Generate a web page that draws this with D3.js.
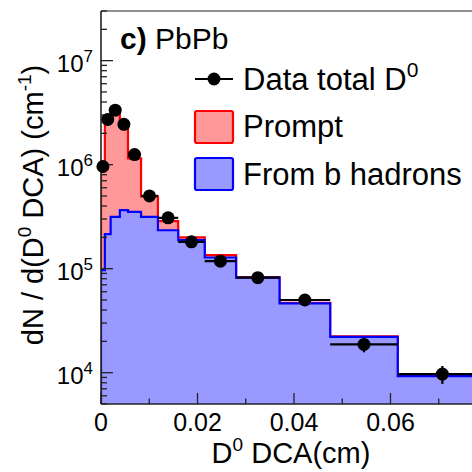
<!DOCTYPE html>
<html>
<head>
<meta charset="UTF-8">
<script src="https://d3js.org/d3.v7.min.js"></script>
<style>
  body { margin: 0; background: #fff; }
  text { font-family: "Liberation Sans", Arial, sans-serif; fill: #000; }
</style>
</head>
<body>
<svg id="chart" width="472" height="472"></svg>
<script>
// bin edges of DCA (cm)
const binEdges = [0, 0.0008, 0.002, 0.0039, 0.0056, 0.0083, 0.0118, 0.016, 0.0215, 0.028, 0.037, 0.0475, 0.0615, 0.08];
// data total D0
const dataVals = [9.6e5, 2.72e6, 3.34e6, 2.44e6, 1.25e6, 5.0e5, 3.08e5, 1.81e5, 1.18e5, 8.2e4, 5.0e4, 1.87e4, 9.7e3];
const dataErr  = [0, 0, 0, 0, 0, 0, 0, 0, 0, 0, 2500, 3000, 1900];
// prompt + from b (stacked total)
const totalVals = [1.0e6, 2.7e6, 3.3e6, 2.35e6, 1.15e6, 4.95e5, 2.87e5, 2.0e5, 1.35e5, 8.3e4, 4.68e4, 2.23e4, 9.35e3];
// from b hadrons
const fromBVals = [9.7e4, 2.15e5, 3.15e5, 3.65e5, 3.52e5, 3.15e5, 2.34e5, 1.88e5, 1.28e5, 8.2e4, 4.63e4, 2.21e4, 9.25e3];

const xTicks = [0, 0.02, 0.04, 0.06, 0.08];
const xTickLabels = ["0", "0.02", "0.04", "0.06", ""];
const yTickExp = [4, 5, 6, 7];

const svg = d3.select("#chart");
const mLeft = 101, mTop = 11, mRight = 487, mBottom = 404;

const x = d3.scaleLinear().domain([0, 0.08]).range([mLeft, mRight]);
const y = d3.scaleLog().domain([5000, 3e7]).range([mBottom, mTop]);

svg.append("defs").append("clipPath").attr("id", "plotclip")
  .append("rect").attr("x", mLeft).attr("y", mTop)
  .attr("width", mRight - mLeft).attr("height", mBottom - mTop);

const plot = svg.append("g").attr("clip-path", "url(#plotclip)");

function stepPath(vals) {
  let p = `M${x(binEdges[0])},${y(5000)}`;
  vals.forEach((v, i) => {
    p += `L${x(binEdges[i])},${y(v)}L${x(binEdges[i + 1])},${y(v)}`;
  });
  p += `L${x(binEdges[binEdges.length - 1])},${y(5000)}`;
  return p;
}

// histograms
plot.append("path").attr("d", stepPath(totalVals) + "Z")
  .attr("fill", "#ff9999").attr("stroke", "none");
plot.append("path").attr("d", stepPath(totalVals))
  .attr("fill", "none").attr("stroke", "#ff0000").attr("stroke-width", 2.2);
plot.append("path").attr("d", stepPath(fromBVals) + "Z")
  .attr("fill", "#9999ff").attr("stroke", "none");
plot.append("path").attr("d", stepPath(fromBVals))
  .attr("fill", "none").attr("stroke", "#0000ff").attr("stroke-width", 2.2);

// frame
const axisColor = "#222";
svg.append("line").attr("x1", mLeft).attr("x2", mRight).attr("y1", mBottom).attr("y2", mBottom)
  .attr("stroke", axisColor).attr("stroke-width", 1.6);
svg.append("line").attr("x1", mLeft).attr("x2", mLeft).attr("y1", mTop).attr("y2", mBottom)
  .attr("stroke", axisColor).attr("stroke-width", 1.6);
svg.append("line").attr("x1", mLeft).attr("x2", mRight).attr("y1", mTop).attr("y2", mTop)
  .attr("stroke", axisColor).attr("stroke-width", 1.2);

// x ticks (inward)
const xMinor = d3.range(0, 0.0801, 0.01);
xMinor.forEach(t => {
  const major = Math.abs(t / 0.02 - Math.round(t / 0.02)) < 1e-6;
  svg.append("line").attr("x1", x(t)).attr("x2", x(t))
    .attr("y1", mBottom).attr("y2", mBottom - (major ? 11 : 5.5))
    .attr("stroke", axisColor).attr("stroke-width", 1.3);
});
svg.selectAll(".xlab").data(xTicks).enter().append("text")
  .attr("x", d => x(d)).attr("y", 431)
  .attr("text-anchor", "middle").style("font-size", "25px")
  .text((d, i) => xTickLabels[i]);

// y ticks (inward, log)
for (let e = 3; e <= 7; e++) {
  for (let m = 1; m <= 9; m++) {
    const v = m * Math.pow(10, e);
    if (v < 5000 || v > 3e7) continue;
    svg.append("line").attr("x1", mLeft).attr("x2", mLeft + (m === 1 ? 12 : 6))
      .attr("y1", y(v)).attr("y2", y(v))
      .attr("stroke", axisColor).attr("stroke-width", 1.3);
  }
}
yTickExp.forEach(e => {
  const t = svg.append("text").attr("x", 93).attr("y", y(Math.pow(10, e)) + 11)
    .attr("text-anchor", "end").style("font-size", "24px");
  t.append("tspan").text("10");
  t.append("tspan").attr("dy", -10).style("font-size", "17px").text(e);
});

// data points
const centers = dataVals.map((v, i) => (binEdges[i] + binEdges[i + 1]) / 2);
const pts = svg.append("g");
dataVals.forEach((v, i) => {
  pts.append("line").attr("x1", x(binEdges[i])).attr("x2", Math.min(x(binEdges[i + 1]), 472))
    .attr("y1", y(v)).attr("y2", y(v)).attr("stroke", "#000").attr("stroke-width", 2.2);
  if (dataErr[i] > 0) {
    pts.append("line").attr("x1", x(centers[i])).attr("x2", x(centers[i]))
      .attr("y1", y(v + dataErr[i])).attr("y2", y(v - dataErr[i]))
      .attr("stroke", "#000").attr("stroke-width", 2.2);
  }
  pts.append("circle").attr("cx", x(centers[i])).attr("cy", y(v)).attr("r", 6.5).attr("fill", "#000");
});

// axis titles
const xt = svg.append("text").attr("x", 291).attr("y", 463)
  .attr("text-anchor", "middle").style("font-size", "29px");
xt.append("tspan").text("D");
xt.append("tspan").attr("dy", -12).style("font-size", "19px").text("0");
xt.append("tspan").attr("dy", 12).text(" DCA(cm)");

const yt = svg.append("text").attr("transform", "translate(43,205) rotate(-90)")
  .attr("text-anchor", "middle").style("font-size", "29px");
yt.append("tspan").text("dN / d(D");
yt.append("tspan").attr("dy", -12).style("font-size", "19px").text("0");
yt.append("tspan").attr("dy", 12).text(" DCA) (cm");
yt.append("tspan").attr("dy", -12).style("font-size", "19px").text("-1");
yt.append("tspan").attr("dy", 12).text(")");

// label
const lab = svg.append("text").attr("x", 120).attr("y", 49).style("font-size", "30px");
lab.append("tspan").style("font-weight", "bold").text("c)");
lab.append("tspan").text(" PbPb");

// legend
const lg = svg.append("g");
lg.append("line").attr("x1", 195).attr("x2", 233).attr("y1", 79).attr("y2", 79)
  .attr("stroke", "#000").attr("stroke-width", 2.2);
lg.append("circle").attr("cx", 214).attr("cy", 79).attr("r", 6.5).attr("fill", "#000");
const lt = lg.append("text").attr("x", 243).attr("y", 90).style("font-size", "31px");
lt.append("tspan").text("Data total D");
lt.append("tspan").attr("dy", -13).style("font-size", "21px").text("0");

lg.append("rect").attr("x", 195).attr("y", 111).attr("width", 38).attr("height", 32).attr("rx", 2)
  .attr("fill", "#ff9999").attr("stroke", "#ff0000").attr("stroke-width", 2.2);
lg.append("text").attr("x", 243).attr("y", 137).style("font-size", "31px").text("Prompt");

lg.append("rect").attr("x", 195).attr("y", 158).attr("width", 38).attr("height", 32).attr("rx", 2)
  .attr("fill", "#9999ff").attr("stroke", "#0000ff").attr("stroke-width", 2.2);
lg.append("text").attr("x", 243).attr("y", 185).style("font-size", "31px").text("From b hadrons");
</script>
</body>
</html>
